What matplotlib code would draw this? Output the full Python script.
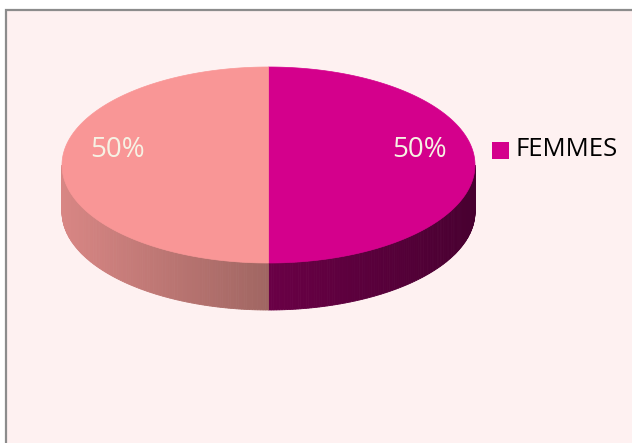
import numpy as np
import matplotlib
matplotlib.use("Agg")
import matplotlib.pyplot as plt
from matplotlib.patches import Polygon, Rectangle
from matplotlib.colors import to_rgb

categories = ["FEMMES", "HOMMES"]
values = [50, 50]
labels = ["50%", "50%"]
top_colors = ["#D4008C", "#F99696"]
# side colour at outer edge, and at the centre line
side_outer = ["#480030", "#D88684"]
side_inner = ["#6A0046", "#A06662"]

W, H = 632, 443
fig = plt.figure(figsize=(W / 100, H / 100), dpi=100)
fig.patch.set_facecolor("white")
ax = fig.add_axes([0, 0, 1, 1])
ax.set_xlim(0, W)
ax.set_ylim(H, 0)
ax.axis("off")

ax.add_patch(Rectangle((6, 10), 640, 450, facecolor="#FEF1F1", edgecolor="#8C8C8C", lw=1.6, zorder=0))

cx, cy, a, b, depth = 268.5, 165, 206.5, 98, 47

def pt(th):
    return cx + a * np.sin(th), cy - b * np.cos(th)

total = sum(values)
starts = np.cumsum([0] + values[:-1]) / total * 2 * np.pi
ends = np.cumsum(values) / total * 2 * np.pi

def mix(c1, c2, t):
    c1, c2 = np.array(to_rgb(c1)), np.array(to_rgb(c2))
    return tuple(c1 + (c2 - c1) * t)

# sides (front half visible: theta in [pi/2, 3pi/2])
for i in range(len(values)):
    s, e = max(starts[i], np.pi / 2), min(ends[i], 3 * np.pi / 2)
    if e <= s:
        continue
    n = 120
    th = np.linspace(s, e, n + 1)
    for k in range(n):
        t0, t1 = th[k], th[k + 1]
        xm = np.sin((t0 + t1) / 2)
        f = 1 - abs(xm)
        col = mix(side_outer[i], side_inner[i], f)
        x0, y0 = pt(t0)
        x1, y1 = pt(t1)
        ax.add_patch(Polygon([(x0, y0), (x1, y1), (x1, y1 + depth), (x0, y0 + depth)],
                             closed=True, facecolor=col, edgecolor=col, lw=0.6, zorder=2))

# top faces
for i in range(len(values)):
    th = np.linspace(starts[i], ends[i], 200)
    xs, ys = pt(th)
    verts = [(cx, cy)] + list(zip(xs, ys))
    ax.add_patch(Polygon(verts, closed=True, facecolor=top_colors[i], edgecolor=top_colors[i], lw=0.5, zorder=3))
    mid = (starts[i] + ends[i]) / 2
    lx = cx + 0.73 * a * np.sin(mid)
    ly = cy - 0.73 * b * np.cos(mid) - 15
    ax.text(lx, ly, labels[i], color="#F6F2E4", fontsize=20, family="Open Sans",
            ha="center", va="center", zorder=4)

# legend (only first entry visible)
ax.add_patch(Rectangle((492, 142), 17, 17, facecolor=top_colors[0], edgecolor="none", zorder=4))
ax.text(516, 150, categories[0], fontsize=18.5, family="Open Sans", color="black",
        ha="left", va="center", zorder=4)

fig.savefig("out.png", dpi=100, facecolor="white")
